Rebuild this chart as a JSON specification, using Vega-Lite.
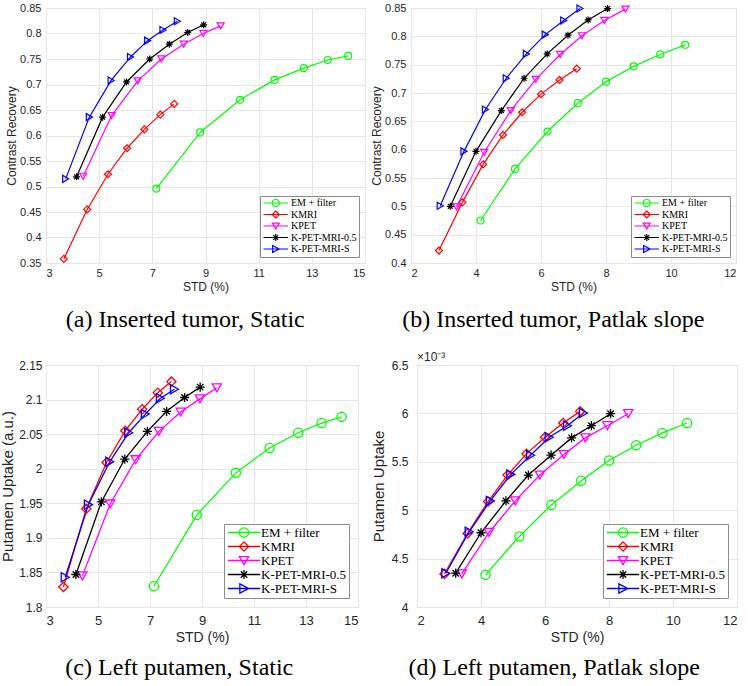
{
  "$schema": "https://vega.github.io/schema/vega-lite/v6.json",
  "padding": {"left": 0, "top": 1, "right": 0, "bottom": 0},
  "background": "white",
  "columns": 2,
  "align": {"row": "each", "column": "none"},
  "spacing": {"row": 17, "column": 4},
  "resolve": {"scale": {"color": "independent", "x": "independent", "y": "independent"}, "legend": {"color": "independent"}},
  "config": {
    "font": "Liberation Sans",
    "view": {"stroke": "#9a9a9a", "strokeWidth": 1},
    "axis": {"domain": false, "ticks": false, "tickSize": 0, "tickCount": 30, "labelOverlap": false, "gridColor": "#e6e6e6", "gridWidth": 1, "labelColor": "#262626", "titleColor": "#262626", "titleFontWeight": "normal", "labelFont": "Liberation Sans", "titleFont": "Liberation Sans"},
    "title": {"font": "Liberation Serif", "fontWeight": "normal", "color": "black", "orient": "bottom", "frame": "bounds", "anchor": "middle", "fontSize": 24},
    "legend": {"title": null, "orient": "bottom-right", "fillColor": "white", "strokeColor": "#8c8c8c", "padding": 2, "labelFont": "Liberation Serif", "labelColor": "black"}
  },
  "datasets": {
    "a": [
      {"series": "EM + filter", "std": 7.15, "value": 0.496}, {"series": "EM + filter", "std": 8.8, "value": 0.606}, {"series": "EM + filter", "std": 10.3, "value": 0.670}, {"series": "EM + filter", "std": 11.6, "value": 0.709}, {"series": "EM + filter", "std": 12.7, "value": 0.732}, {"series": "EM + filter", "std": 13.6, "value": 0.748}, {"series": "EM + filter", "std": 14.37, "value": 0.756},
      {"series": "KMRI", "std": 3.67, "value": 0.358}, {"series": "KMRI", "std": 4.55, "value": 0.455}, {"series": "KMRI", "std": 5.33, "value": 0.524}, {"series": "KMRI", "std": 6.05, "value": 0.575}, {"series": "KMRI", "std": 6.7, "value": 0.612}, {"series": "KMRI", "std": 7.3, "value": 0.641}, {"series": "KMRI", "std": 7.82, "value": 0.662},
      {"series": "KPET", "std": 4.4, "value": 0.520}, {"series": "KPET", "std": 5.47, "value": 0.639}, {"series": "KPET", "std": 6.45, "value": 0.707}, {"series": "KPET", "std": 7.34, "value": 0.750}, {"series": "KPET", "std": 8.18, "value": 0.779}, {"series": "KPET", "std": 8.92, "value": 0.800}, {"series": "KPET", "std": 9.57, "value": 0.815},
      {"series": "K-PET-MRI-0.5", "std": 4.15, "value": 0.519}, {"series": "K-PET-MRI-0.5", "std": 5.13, "value": 0.636}, {"series": "K-PET-MRI-0.5", "std": 6.03, "value": 0.705}, {"series": "K-PET-MRI-0.5", "std": 6.9, "value": 0.750}, {"series": "K-PET-MRI-0.5", "std": 7.64, "value": 0.779}, {"series": "K-PET-MRI-0.5", "std": 8.33, "value": 0.802}, {"series": "K-PET-MRI-0.5", "std": 8.93, "value": 0.817},
      {"series": "K-PET-MRI-S", "std": 3.74, "value": 0.515}, {"series": "K-PET-MRI-S", "std": 4.63, "value": 0.636}, {"series": "K-PET-MRI-S", "std": 5.45, "value": 0.708}, {"series": "K-PET-MRI-S", "std": 6.18, "value": 0.754}, {"series": "K-PET-MRI-S", "std": 6.82, "value": 0.786}, {"series": "K-PET-MRI-S", "std": 7.4, "value": 0.807}, {"series": "K-PET-MRI-S", "std": 7.94, "value": 0.824}
    ],
    "b": [
      {"series": "EM + filter", "std": 4.14, "value": 0.475}, {"series": "EM + filter", "std": 5.2, "value": 0.566}, {"series": "EM + filter", "std": 6.2, "value": 0.632}, {"series": "EM + filter", "std": 7.13, "value": 0.682}, {"series": "EM + filter", "std": 8.0, "value": 0.720}, {"series": "EM + filter", "std": 8.85, "value": 0.747}, {"series": "EM + filter", "std": 9.67, "value": 0.768}, {"series": "EM + filter", "std": 10.44, "value": 0.785},
      {"series": "KMRI", "std": 2.86, "value": 0.422}, {"series": "KMRI", "std": 3.58, "value": 0.507}, {"series": "KMRI", "std": 4.22, "value": 0.574}, {"series": "KMRI", "std": 4.83, "value": 0.626}, {"series": "KMRI", "std": 5.42, "value": 0.666}, {"series": "KMRI", "std": 6.0, "value": 0.698}, {"series": "KMRI", "std": 6.57, "value": 0.723}, {"series": "KMRI", "std": 7.1, "value": 0.743},
      {"series": "KPET", "std": 3.4, "value": 0.499}, {"series": "KPET", "std": 4.25, "value": 0.595}, {"series": "KPET", "std": 5.07, "value": 0.669}, {"series": "KPET", "std": 5.84, "value": 0.724}, {"series": "KPET", "std": 6.59, "value": 0.768}, {"series": "KPET", "std": 7.26, "value": 0.801}, {"series": "KPET", "std": 7.95, "value": 0.828}, {"series": "KPET", "std": 8.6, "value": 0.848},
      {"series": "K-PET-MRI-0.5", "std": 3.21, "value": 0.500}, {"series": "K-PET-MRI-0.5", "std": 4.0, "value": 0.597}, {"series": "K-PET-MRI-0.5", "std": 4.78, "value": 0.669}, {"series": "K-PET-MRI-0.5", "std": 5.48, "value": 0.726}, {"series": "K-PET-MRI-0.5", "std": 6.19, "value": 0.769}, {"series": "K-PET-MRI-0.5", "std": 6.83, "value": 0.802}, {"series": "K-PET-MRI-0.5", "std": 7.45, "value": 0.829}, {"series": "K-PET-MRI-0.5", "std": 8.05, "value": 0.849},
      {"series": "K-PET-MRI-S", "std": 2.9, "value": 0.501}, {"series": "K-PET-MRI-S", "std": 3.63, "value": 0.597}, {"series": "K-PET-MRI-S", "std": 4.29, "value": 0.671}, {"series": "K-PET-MRI-S", "std": 4.93, "value": 0.726}, {"series": "K-PET-MRI-S", "std": 5.55, "value": 0.769}, {"series": "K-PET-MRI-S", "std": 6.13, "value": 0.803}, {"series": "K-PET-MRI-S", "std": 6.7, "value": 0.828}, {"series": "K-PET-MRI-S", "std": 7.2, "value": 0.849}
    ],
    "c": [
      {"series": "EM + filter", "std": 7.15, "value": 1.830}, {"series": "EM + filter", "std": 8.8, "value": 1.933}, {"series": "EM + filter", "std": 10.3, "value": 1.994}, {"series": "EM + filter", "std": 11.6, "value": 2.030}, {"series": "EM + filter", "std": 12.7, "value": 2.052}, {"series": "EM + filter", "std": 13.6, "value": 2.066}, {"series": "EM + filter", "std": 14.37, "value": 2.075},
      {"series": "KMRI", "std": 3.67, "value": 1.829}, {"series": "KMRI", "std": 4.55, "value": 1.942}, {"series": "KMRI", "std": 5.33, "value": 2.009}, {"series": "KMRI", "std": 6.05, "value": 2.055}, {"series": "KMRI", "std": 6.7, "value": 2.086}, {"series": "KMRI", "std": 7.3, "value": 2.110}, {"series": "KMRI", "std": 7.82, "value": 2.126},
      {"series": "KPET", "std": 4.4, "value": 1.845}, {"series": "KPET", "std": 5.47, "value": 1.949}, {"series": "KPET", "std": 6.45, "value": 2.013}, {"series": "KPET", "std": 7.34, "value": 2.054}, {"series": "KPET", "std": 8.18, "value": 2.082}, {"series": "KPET", "std": 8.92, "value": 2.101}, {"series": "KPET", "std": 9.57, "value": 2.117},
      {"series": "K-PET-MRI-0.5", "std": 4.15, "value": 1.847}, {"series": "K-PET-MRI-0.5", "std": 5.13, "value": 1.952}, {"series": "K-PET-MRI-0.5", "std": 6.03, "value": 2.014}, {"series": "K-PET-MRI-0.5", "std": 6.9, "value": 2.054}, {"series": "K-PET-MRI-0.5", "std": 7.64, "value": 2.083}, {"series": "K-PET-MRI-0.5", "std": 8.33, "value": 2.103}, {"series": "K-PET-MRI-0.5", "std": 8.93, "value": 2.118},
      {"series": "K-PET-MRI-S", "std": 3.74, "value": 1.843}, {"series": "K-PET-MRI-S", "std": 4.63, "value": 1.948}, {"series": "K-PET-MRI-S", "std": 5.45, "value": 2.010}, {"series": "K-PET-MRI-S", "std": 6.18, "value": 2.052}, {"series": "K-PET-MRI-S", "std": 6.82, "value": 2.079}, {"series": "K-PET-MRI-S", "std": 7.4, "value": 2.102}, {"series": "K-PET-MRI-S", "std": 7.94, "value": 2.115}
    ],
    "d": [
      {"series": "EM + filter", "std": 4.14, "value": 0.004332}, {"series": "EM + filter", "std": 5.2, "value": 0.004729}, {"series": "EM + filter", "std": 6.2, "value": 0.005055}, {"series": "EM + filter", "std": 7.13, "value": 0.005305}, {"series": "EM + filter", "std": 8.0, "value": 0.005514}, {"series": "EM + filter", "std": 8.85, "value": 0.005671}, {"series": "EM + filter", "std": 9.67, "value": 0.005798}, {"series": "EM + filter", "std": 10.44, "value": 0.005901},
      {"series": "KMRI", "std": 2.86, "value": 0.004342}, {"series": "KMRI", "std": 3.58, "value": 0.004760}, {"series": "KMRI", "std": 4.22, "value": 0.005089}, {"series": "KMRI", "std": 4.83, "value": 0.005363}, {"series": "KMRI", "std": 5.42, "value": 0.005582}, {"series": "KMRI", "std": 6.0, "value": 0.005753}, {"series": "KMRI", "std": 6.57, "value": 0.005901}, {"series": "KMRI", "std": 7.1, "value": 0.006021},
      {"series": "KPET", "std": 3.4, "value": 0.004342}, {"series": "KPET", "std": 4.25, "value": 0.004770}, {"series": "KPET", "std": 5.07, "value": 0.005096}, {"series": "KPET", "std": 5.84, "value": 0.005363}, {"series": "KPET", "std": 6.59, "value": 0.005575}, {"series": "KPET", "std": 7.26, "value": 0.005747}, {"series": "KPET", "std": 7.95, "value": 0.005873}, {"series": "KPET", "std": 8.6, "value": 0.005997},
      {"series": "K-PET-MRI-0.5", "std": 3.21, "value": 0.004349}, {"series": "K-PET-MRI-0.5", "std": 4.0, "value": 0.004767}, {"series": "K-PET-MRI-0.5", "std": 4.78, "value": 0.005096}, {"series": "K-PET-MRI-0.5", "std": 5.48, "value": 0.005363}, {"series": "K-PET-MRI-0.5", "std": 6.19, "value": 0.005568}, {"series": "K-PET-MRI-0.5", "std": 6.83, "value": 0.005747}, {"series": "K-PET-MRI-0.5", "std": 7.45, "value": 0.005873}, {"series": "K-PET-MRI-0.5", "std": 8.05, "value": 0.005997},
      {"series": "K-PET-MRI-S", "std": 2.9, "value": 0.004349}, {"series": "K-PET-MRI-S", "std": 3.63, "value": 0.004777}, {"series": "K-PET-MRI-S", "std": 4.29, "value": 0.005096}, {"series": "K-PET-MRI-S", "std": 4.93, "value": 0.005370}, {"series": "K-PET-MRI-S", "std": 5.55, "value": 0.005568}, {"series": "K-PET-MRI-S", "std": 6.13, "value": 0.005753}, {"series": "K-PET-MRI-S", "std": 6.7, "value": 0.005873}, {"series": "K-PET-MRI-S", "std": 7.2, "value": 0.006003}
    ],
    "expo": [{"t": "×10⁻³"}]
  },
  "concat": [
    {
      "width": 319, "height": 255,
      "title": {"text": "(a) Inserted tumor, Static", "offset": 16},
      "data": {"name": "a"},
      "layer": [
        {"mark": {"type": "line", "strokeWidth": 1.2},
         "encoding": {
           "x": {"field": "std", "type": "quantitative", "scale": {"domain": [3, 15], "nice": false, "zero": false}, "axis": {"values": [3, 5, 7, 9, 11, 13, 15], "format": "d", "tickCount": 30, "labelOverlap": false, "title": "STD (%)", "labelFontSize": 11, "titleFontSize": 12, "labelPadding": 4, "titlePadding": 3}},
           "y": {"field": "value", "type": "quantitative", "scale": {"domain": [0.35, 0.85], "nice": false, "zero": false}, "axis": {"values": [0.35, 0.4, 0.45, 0.5, 0.55, 0.6, 0.65, 0.7, 0.75, 0.8, 0.85], "tickCount": 30, "labelOverlap": false, "format": ".2~f", "title": "Contrast Recovery", "labelFontSize": 11, "titleFontSize": 12, "labelPadding": 5, "titlePadding": 1}},
           "color": {"field": "series", "type": "nominal", "scale": {"domain": ["EM + filter", "KMRI", "KPET", "K-PET-MRI-0.5", "K-PET-MRI-S"], "range": ["#00ff00", "#ff0000", "#ff00ff", "#000000", "#0000ff"]}, "legend": {"offset": 6, "symbolSize": 49, "symbolStrokeWidth": 1.2, "labelFontSize": 10, "labelOffset": 19, "rowPadding": -0.5, "encode": {"symbols": {"update": {"shape": {"signal": "datum.value === 'EM + filter' ? 'M-1,0L6,0M3.5,0A1,1,0,1,1,1.5,0A1,1,0,1,1,3.5,0' : datum.value === 'KMRI' ? 'M-1,0L6,0M2.5,-1L3.5,0L2.5,1L1.5,0Z' : datum.value === 'KPET' ? 'M-1,0L6,0M1.5,-0.85L3.5,-0.85L2.5,0.9Z' : datum.value === 'K-PET-MRI-0.5' ? 'M-1,0L6,0M2.5,-1L2.5,1M1.8,-0.7L3.2,0.7M1.8,0.7L3.2,-0.7' : 'M-1,0L6,0M1.6,-1L3.5,0L1.6,1Z'"}, "fill": {"value": "transparent"}}}}}}
         }},
        {"mark": {"type": "point", "filled": false, "size": 49, "strokeWidth": 1.2, "opacity": 1},
         "encoding": {
           "x": {"field": "std", "type": "quantitative"},
           "y": {"field": "value", "type": "quantitative"},
           "shape": {"condition": [{"test": "datum.series === 'KMRI'", "value": "diamond"}, {"test": "datum.series === 'KPET'", "value": "triangle-down"}, {"test": "datum.series === 'K-PET-MRI-0.5'", "value": "M-1,0L1,0M0,-1L0,1M-0.7,-0.7L0.7,0.7M-0.7,0.7L0.7,-0.7"}, {"test": "datum.series === 'K-PET-MRI-S'", "value": "triangle-right"}], "value": "circle"},
           "color": {"field": "series", "type": "nominal", "scale": {"domain": ["EM + filter", "KMRI", "KPET", "K-PET-MRI-0.5", "K-PET-MRI-S"], "range": ["#00ff00", "#ff0000", "#ff00ff", "#000000", "#0000ff"]}, "legend": {"offset": 6, "symbolSize": 49, "symbolStrokeWidth": 1.2, "labelFontSize": 10, "labelOffset": 19, "rowPadding": -0.5, "encode": {"symbols": {"update": {"shape": {"signal": "datum.value === 'EM + filter' ? 'M-1,0L6,0M3.5,0A1,1,0,1,1,1.5,0A1,1,0,1,1,3.5,0' : datum.value === 'KMRI' ? 'M-1,0L6,0M2.5,-1L3.5,0L2.5,1L1.5,0Z' : datum.value === 'KPET' ? 'M-1,0L6,0M1.5,-0.85L3.5,-0.85L2.5,0.9Z' : datum.value === 'K-PET-MRI-0.5' ? 'M-1,0L6,0M2.5,-1L2.5,1M1.8,-0.7L3.2,0.7M1.8,0.7L3.2,-0.7' : 'M-1,0L6,0M1.6,-1L3.5,0L1.6,1Z'"}, "fill": {"value": "transparent"}}}}}}
         }}
      ]
    },
    {
      "width": 325, "height": 255,
      "title": {"text": "(b) Inserted tumor, Patlak slope", "offset": 16},
      "data": {"name": "b"},
      "layer": [
        {"mark": {"type": "line", "strokeWidth": 1.2},
         "encoding": {
           "x": {"field": "std", "type": "quantitative", "scale": {"domain": [2, 12], "nice": false, "zero": false}, "axis": {"values": [2, 4, 6, 8, 10, 12], "format": "d", "tickCount": 30, "labelOverlap": false, "title": "STD (%)", "labelFontSize": 11, "titleFontSize": 12, "labelPadding": 4, "titlePadding": 3}},
           "y": {"field": "value", "type": "quantitative", "scale": {"domain": [0.4, 0.85], "nice": false, "zero": false}, "axis": {"values": [0.4, 0.45, 0.5, 0.55, 0.6, 0.65, 0.7, 0.75, 0.8, 0.85], "tickCount": 30, "labelOverlap": false, "format": ".2~f", "title": "Contrast Recovery", "labelFontSize": 11, "titleFontSize": 12, "labelPadding": 5, "titlePadding": 1}},
           "color": {"field": "series", "type": "nominal", "scale": {"domain": ["EM + filter", "KMRI", "KPET", "K-PET-MRI-0.5", "K-PET-MRI-S"], "range": ["#00ff00", "#ff0000", "#ff00ff", "#000000", "#0000ff"]}, "legend": {"offset": 6, "symbolSize": 49, "symbolStrokeWidth": 1.2, "labelFontSize": 10, "labelOffset": 19, "rowPadding": -0.5, "encode": {"symbols": {"update": {"shape": {"signal": "datum.value === 'EM + filter' ? 'M-1,0L6,0M3.5,0A1,1,0,1,1,1.5,0A1,1,0,1,1,3.5,0' : datum.value === 'KMRI' ? 'M-1,0L6,0M2.5,-1L3.5,0L2.5,1L1.5,0Z' : datum.value === 'KPET' ? 'M-1,0L6,0M1.5,-0.85L3.5,-0.85L2.5,0.9Z' : datum.value === 'K-PET-MRI-0.5' ? 'M-1,0L6,0M2.5,-1L2.5,1M1.8,-0.7L3.2,0.7M1.8,0.7L3.2,-0.7' : 'M-1,0L6,0M1.6,-1L3.5,0L1.6,1Z'"}, "fill": {"value": "transparent"}}}}}}
         }},
        {"mark": {"type": "point", "filled": false, "size": 49, "strokeWidth": 1.2, "opacity": 1},
         "encoding": {
           "x": {"field": "std", "type": "quantitative"},
           "y": {"field": "value", "type": "quantitative"},
           "shape": {"condition": [{"test": "datum.series === 'KMRI'", "value": "diamond"}, {"test": "datum.series === 'KPET'", "value": "triangle-down"}, {"test": "datum.series === 'K-PET-MRI-0.5'", "value": "M-1,0L1,0M0,-1L0,1M-0.7,-0.7L0.7,0.7M-0.7,0.7L0.7,-0.7"}, {"test": "datum.series === 'K-PET-MRI-S'", "value": "triangle-right"}], "value": "circle"},
           "color": {"field": "series", "type": "nominal", "scale": {"domain": ["EM + filter", "KMRI", "KPET", "K-PET-MRI-0.5", "K-PET-MRI-S"], "range": ["#00ff00", "#ff0000", "#ff00ff", "#000000", "#0000ff"]}, "legend": {"offset": 6, "symbolSize": 49, "symbolStrokeWidth": 1.2, "labelFontSize": 10, "labelOffset": 19, "rowPadding": -0.5, "encode": {"symbols": {"update": {"shape": {"signal": "datum.value === 'EM + filter' ? 'M-1,0L6,0M3.5,0A1,1,0,1,1,1.5,0A1,1,0,1,1,3.5,0' : datum.value === 'KMRI' ? 'M-1,0L6,0M2.5,-1L3.5,0L2.5,1L1.5,0Z' : datum.value === 'KPET' ? 'M-1,0L6,0M1.5,-0.85L3.5,-0.85L2.5,0.9Z' : datum.value === 'K-PET-MRI-0.5' ? 'M-1,0L6,0M2.5,-1L2.5,1M1.8,-0.7L3.2,0.7M1.8,0.7L3.2,-0.7' : 'M-1,0L6,0M1.6,-1L3.5,0L1.6,1Z'"}, "fill": {"value": "transparent"}}}}}}
         }}
      ]
    },
    {
      "width": 312, "height": 242,
      "title": {"text": "(c) Left putamen, Static", "offset": 12},
      "data": {"name": "c"},
      "layer": [
        {"mark": {"type": "line", "strokeWidth": 1.3},
         "encoding": {
           "x": {"field": "std", "type": "quantitative", "scale": {"domain": [3, 15], "nice": false, "zero": false}, "axis": {"values": [3, 5, 7, 9, 11, 13, 15], "format": "d", "tickCount": 30, "labelOverlap": false, "title": "STD (%)", "labelFontSize": 13, "titleFontSize": 14, "labelPadding": 7, "titlePadding": 3}},
           "y": {"field": "value", "type": "quantitative", "scale": {"domain": [1.8, 2.15], "nice": false, "zero": false}, "axis": {"values": [1.8, 1.85, 1.9, 1.95, 2, 2.05, 2.1, 2.15], "tickCount": 30, "labelOverlap": false, "format": ".2~f", "title": "Putamen Uptake (a.u.)", "labelFontSize": 12, "titleFontSize": 15, "labelPadding": 4, "titlePadding": 3}},
           "color": {"field": "series", "type": "nominal", "scale": {"domain": ["EM + filter", "KMRI", "KPET", "K-PET-MRI-0.5", "K-PET-MRI-S"], "range": ["#00ff00", "#ff0000", "#ff00ff", "#000000", "#0000ff"]}, "legend": {"offset": 9, "symbolSize": 85, "symbolStrokeWidth": 1.3, "labelFontSize": 13, "labelOffset": 22, "rowPadding": -1.5, "encode": {"symbols": {"update": {"shape": {"signal": "datum.value === 'EM + filter' ? 'M-1,0L6,0M3.5,0A1,1,0,1,1,1.5,0A1,1,0,1,1,3.5,0' : datum.value === 'KMRI' ? 'M-1,0L6,0M2.5,-1L3.5,0L2.5,1L1.5,0Z' : datum.value === 'KPET' ? 'M-1,0L6,0M1.5,-0.85L3.5,-0.85L2.5,0.9Z' : datum.value === 'K-PET-MRI-0.5' ? 'M-1,0L6,0M2.5,-1L2.5,1M1.8,-0.7L3.2,0.7M1.8,0.7L3.2,-0.7' : 'M-1,0L6,0M1.6,-1L3.5,0L1.6,1Z'"}, "fill": {"value": "transparent"}}}}}}
         }},
        {"mark": {"type": "point", "filled": false, "size": 85, "strokeWidth": 1.3, "opacity": 1},
         "encoding": {
           "x": {"field": "std", "type": "quantitative"},
           "y": {"field": "value", "type": "quantitative"},
           "shape": {"condition": [{"test": "datum.series === 'KMRI'", "value": "diamond"}, {"test": "datum.series === 'KPET'", "value": "triangle-down"}, {"test": "datum.series === 'K-PET-MRI-0.5'", "value": "M-1,0L1,0M0,-1L0,1M-0.7,-0.7L0.7,0.7M-0.7,0.7L0.7,-0.7"}, {"test": "datum.series === 'K-PET-MRI-S'", "value": "triangle-right"}], "value": "circle"},
           "color": {"field": "series", "type": "nominal", "scale": {"domain": ["EM + filter", "KMRI", "KPET", "K-PET-MRI-0.5", "K-PET-MRI-S"], "range": ["#00ff00", "#ff0000", "#ff00ff", "#000000", "#0000ff"]}, "legend": {"offset": 9, "symbolSize": 85, "symbolStrokeWidth": 1.3, "labelFontSize": 13, "labelOffset": 22, "rowPadding": -1.5, "encode": {"symbols": {"update": {"shape": {"signal": "datum.value === 'EM + filter' ? 'M-1,0L6,0M3.5,0A1,1,0,1,1,1.5,0A1,1,0,1,1,3.5,0' : datum.value === 'KMRI' ? 'M-1,0L6,0M2.5,-1L3.5,0L2.5,1L1.5,0Z' : datum.value === 'KPET' ? 'M-1,0L6,0M1.5,-0.85L3.5,-0.85L2.5,0.9Z' : datum.value === 'K-PET-MRI-0.5' ? 'M-1,0L6,0M2.5,-1L2.5,1M1.8,-0.7L3.2,0.7M1.8,0.7L3.2,-0.7' : 'M-1,0L6,0M1.6,-1L3.5,0L1.6,1Z'"}, "fill": {"value": "transparent"}}}}}}
         }}
      ]
    },
    {
      "width": 320, "height": 242,
      "title": {"text": "(d) Left putamen, Patlak slope", "offset": 12},
      "layer": [
        {"data": {"name": "d"}, "mark": {"type": "line", "strokeWidth": 1.3},
         "encoding": {
           "x": {"field": "std", "type": "quantitative", "scale": {"domain": [2, 12], "nice": false, "zero": false}, "axis": {"values": [2, 4, 6, 8, 10, 12], "format": "d", "tickCount": 30, "labelOverlap": false, "title": "STD (%)", "labelFontSize": 13, "titleFontSize": 14, "labelPadding": 7, "titlePadding": 3}},
           "y": {"field": "value", "type": "quantitative", "scale": {"domain": [0.004, 0.0065], "nice": false, "zero": false}, "axis": {"values": [0.004, 0.0045, 0.005, 0.0055, 0.006, 0.0065], "tickCount": 30, "labelOverlap": false, "labelExpr": "format(datum.value * 1000, '.1~f')", "title": "Putamen Uptake", "labelFontSize": 12, "titleFontSize": 15, "labelPadding": 9, "titlePadding": 5}},
           "color": {"field": "series", "type": "nominal", "scale": {"domain": ["EM + filter", "KMRI", "KPET", "K-PET-MRI-0.5", "K-PET-MRI-S"], "range": ["#00ff00", "#ff0000", "#ff00ff", "#000000", "#0000ff"]}, "legend": {"offset": 9, "symbolSize": 85, "symbolStrokeWidth": 1.3, "labelFontSize": 13, "labelOffset": 22, "rowPadding": -1.5, "encode": {"symbols": {"update": {"shape": {"signal": "datum.value === 'EM + filter' ? 'M-1,0L6,0M3.5,0A1,1,0,1,1,1.5,0A1,1,0,1,1,3.5,0' : datum.value === 'KMRI' ? 'M-1,0L6,0M2.5,-1L3.5,0L2.5,1L1.5,0Z' : datum.value === 'KPET' ? 'M-1,0L6,0M1.5,-0.85L3.5,-0.85L2.5,0.9Z' : datum.value === 'K-PET-MRI-0.5' ? 'M-1,0L6,0M2.5,-1L2.5,1M1.8,-0.7L3.2,0.7M1.8,0.7L3.2,-0.7' : 'M-1,0L6,0M1.6,-1L3.5,0L1.6,1Z'"}, "fill": {"value": "transparent"}}}}}}
         }},
        {"data": {"name": "d"}, "mark": {"type": "point", "filled": false, "size": 85, "strokeWidth": 1.3, "opacity": 1},
         "encoding": {
           "x": {"field": "std", "type": "quantitative"},
           "y": {"field": "value", "type": "quantitative"},
           "shape": {"condition": [{"test": "datum.series === 'KMRI'", "value": "diamond"}, {"test": "datum.series === 'KPET'", "value": "triangle-down"}, {"test": "datum.series === 'K-PET-MRI-0.5'", "value": "M-1,0L1,0M0,-1L0,1M-0.7,-0.7L0.7,0.7M-0.7,0.7L0.7,-0.7"}, {"test": "datum.series === 'K-PET-MRI-S'", "value": "triangle-right"}], "value": "circle"},
           "color": {"field": "series", "type": "nominal", "scale": {"domain": ["EM + filter", "KMRI", "KPET", "K-PET-MRI-0.5", "K-PET-MRI-S"], "range": ["#00ff00", "#ff0000", "#ff00ff", "#000000", "#0000ff"]}, "legend": {"offset": 9, "symbolSize": 85, "symbolStrokeWidth": 1.3, "labelFontSize": 13, "labelOffset": 22, "rowPadding": -1.5, "encode": {"symbols": {"update": {"shape": {"signal": "datum.value === 'EM + filter' ? 'M-1,0L6,0M3.5,0A1,1,0,1,1,1.5,0A1,1,0,1,1,3.5,0' : datum.value === 'KMRI' ? 'M-1,0L6,0M2.5,-1L3.5,0L2.5,1L1.5,0Z' : datum.value === 'KPET' ? 'M-1,0L6,0M1.5,-0.85L3.5,-0.85L2.5,0.9Z' : datum.value === 'K-PET-MRI-0.5' ? 'M-1,0L6,0M2.5,-1L2.5,1M1.8,-0.7L3.2,0.7M1.8,0.7L3.2,-0.7' : 'M-1,0L6,0M1.6,-1L3.5,0L1.6,1Z'"}, "fill": {"value": "transparent"}}}}}}
         }},
        {"data": {"name": "expo"}, "mark": {"type": "text", "align": "left", "baseline": "bottom", "dy": -1, "fontSize": 12, "fill": "#262626"},
         "encoding": {"x": {"datum": 2, "type": "quantitative"}, "y": {"datum": 0.0065, "type": "quantitative"}, "text": {"field": "t", "type": "nominal"}}}
      ]
    }
  ]
}
